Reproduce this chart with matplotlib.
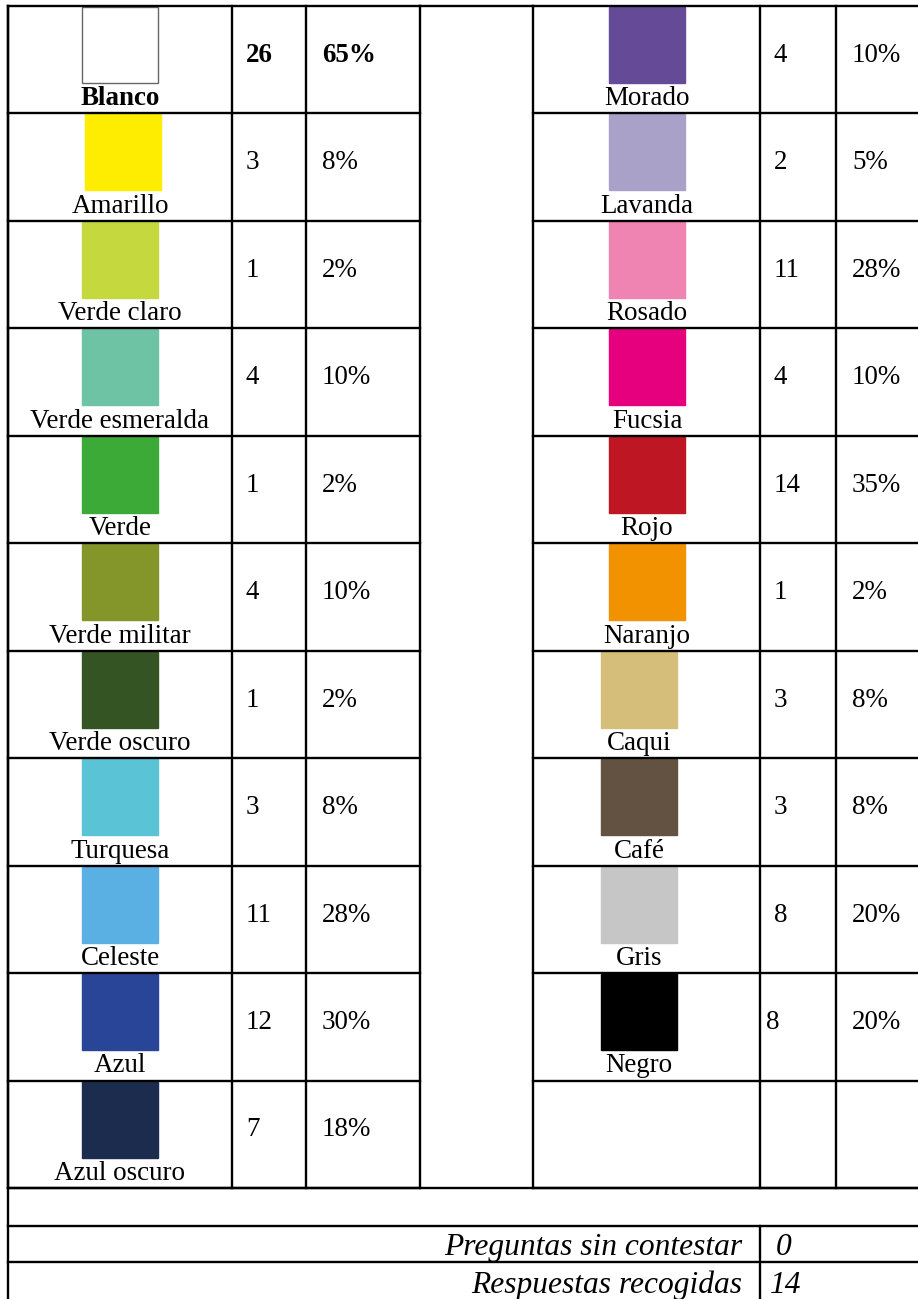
import matplotlib.pyplot as plt
from matplotlib.patches import Rectangle

plt.rcParams['font.family'] = ['Liberation Serif', 'DejaVu Serif']

# data
left_names = ["Blanco", "Amarillo", "Verde claro", "Verde esmeralda", "Verde",
              "Verde militar", "Verde oscuro", "Turquesa", "Celeste", "Azul", "Azul oscuro"]
left_counts = [26, 3, 1, 4, 1, 4, 1, 3, 11, 12, 7]
left_pcts = ["65%", "8%", "2%", "10%", "2%", "10%", "2%", "8%", "28%", "30%", "18%"]
left_colors = ["#FFFFFF", "#FFED00", "#C5D93F", "#6FC3A5", "#3CAA36", "#84962A",
               "#355424", "#5AC3D5", "#5AAFE3", "#284598", "#1C2C4E"]

right_names = ["Morado", "Lavanda", "Rosado", "Fucsia", "Rojo", "Naranjo",
               "Caqui", "Café", "Gris", "Negro"]
right_counts = [4, 2, 11, 4, 14, 1, 3, 3, 8, 8]
right_pcts = ["10%", "5%", "28%", "10%", "35%", "2%", "8%", "8%", "20%", "20%"]
right_colors = ["#654A98", "#A9A1C7", "#EF83B2", "#E6007E", "#BE1622", "#F39200",
                "#D4BE7A", "#635142", "#C6C6C6", "#000000"]

summary_labels = ["Preguntas sin contestar", "Respuestas recogidas"]
summary_values = [0, 14]

# layout (pixels)
W, H = 918, 1299
top = 6
row_h = 107.45
n_rows = 11
body_bottom = top + n_rows * row_h
sum_lines = [body_bottom, 1226, 1262]
sw = 76
fs = 27 * 72 / 100
fs_it = 31.5 * 72 / 100
lw = 1.7
# small horizontal nudges of swatches / numbers as in the original document
left_shift = [0, 3, 0, 0, 0, 0, 0, 0, 0, 0, 0]
left_label_shift = [0] * 11
right_shift = [0, 0, 0, 0, 0, 0, -8, -8, -8, -8]
right_num_shift = [0, 0, 0, 0, 0, 0, 0, 0, 0, -8]

fig = plt.figure(figsize=(W / 100, H / 100), dpi=100)
ax = fig.add_axes([0, 0, 1, 1])
ax.set_xlim(0, W)
ax.set_ylim(H, 0)
ax.axis('off')


def draw_block(names, counts, pcts, colors, x0, x1, x2, x3, cx, shift, lshift, nshift):
    for i, name in enumerate(names):
        y = top + i * row_h
        edge = '#666666' if colors[i] == '#FFFFFF' else colors[i]
        ax.add_patch(Rectangle((cx + shift[i] - sw / 2, y + 1), sw, sw,
                               facecolor=colors[i], edgecolor=edge, lw=1))
        bold = 'bold' if name == "Blanco" else 'normal'
        ax.text(cx + lshift[i], y + row_h - 8, name, ha='center', va='baseline',
                fontsize=fs, fontweight=bold)
        ax.text(x1 + 14 + nshift[i], y + 56, str(counts[i]), ha='left',
                va='baseline', fontsize=fs, fontweight=bold)
        ax.text(x2 + 16, y + 56, pcts[i], ha='left', va='baseline', fontsize=fs,
                fontweight=bold)
    # grid lines
    for i in range(n_rows + 1):
        ax.plot([x0, x3], [top + i * row_h] * 2, color='black', lw=lw,
                solid_capstyle='projecting')
    for x in (x0, x1, x2):
        ax.plot([x, x], [top, body_bottom], color='black', lw=lw)


draw_block(left_names, left_counts, left_pcts, left_colors, 8, 232, 306, 420, 120,
           left_shift, left_label_shift, [0] * len(left_names))
draw_block(right_names, right_counts, right_pcts, right_colors, 533, 760, 836, 925, 647,
           right_shift, right_shift, right_num_shift)

# spacer column and outer lines
ax.plot([420, 420], [top, body_bottom], color='black', lw=lw)
ax.plot([420, 533], [top, top], color='black', lw=lw)
ax.plot([8, 8], [top, H + 5], color='black', lw=lw)
for y in sum_lines:
    ax.plot([8, 925], [y, y], color='black', lw=lw)
ax.plot([760, 760], [sum_lines[1], H + 5], color='black', lw=lw)

# summary rows
base = [1255, 1293]
for lab, val, yb in zip(summary_labels, summary_values, base):
    ax.text(742, yb, lab, ha='right', va='baseline', fontsize=fs_it, style='italic')
    ax.text(770 if val >= 10 else 776, yb, str(val), ha='left', va='baseline',
            fontsize=fs_it, style='italic')

fig.savefig("out.png", dpi=100)
